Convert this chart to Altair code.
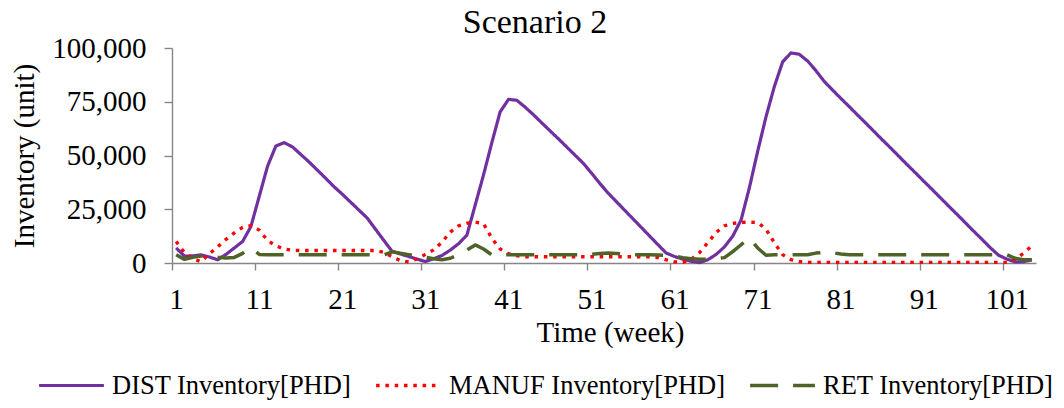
import altair as alt
import pandas as pd

# ---- data (units) ----
weeks = list(range(1, 105))

chart_title = ["Scenario 2"]
series_names = ["DIST Inventory[PHD]", "MANUF Inventory[PHD]", "RET Inventory[PHD]"]
series_colors = ["#7030A0", "#FF0000", "#4F6228"]

x_tick_values = [0.5, 10.5, 20.5, 30.5, 40.5, 50.5, 60.5, 70.5, 80.5, 90.5, 100.5]
y_tick_values = [0, 25000, 50000, 75000, 100000]

dist = [
    7000, 3200, 3300, 3800, 2800, 1500, 4000, 7000, 10000, 17000,
    31000, 45000, 54400, 56000, 54000, 50500, 47000, 43200, 39400, 35500,
    32000, 28300, 24600, 20900, 15700, 10500, 5400, 4200, 3000, 1800,
    700, 2000, 3500, 6000, 9000, 13000, 27000, 41000, 56000, 70300,
    76100, 75700, 72500, 69000, 65200, 61500, 57800, 54000, 50200, 46400,
    41800, 37000, 32500, 28500, 24500, 20500, 16500, 12500, 8500, 4600,
    3000, 1800, 800, 200, 1500, 4000, 7500, 12500, 20000, 35000,
    52000, 68000, 82000, 93500, 97700, 97100, 94000, 89500, 84500, 80500,
    76600, 72800, 68900, 65100, 61200, 57300, 53500, 49600, 45700, 41900,
    38000, 34200, 30300, 26400, 22600, 18700, 14800, 11000, 7100, 3600,
    1800, 500, 600, 1500,
]

manuf = [
    10000, 4800, 2000, 600, 4300, 7500, 11000, 14000, 16600, 17400,
    15300, 10500, 8000, 6500, 5900, 5800, 5800, 5800, 5800, 5800,
    5800, 5800, 5800, 5800, 5800, 5000, 2900, 1100, 500, 1900,
    4000, 6100, 9700, 14400, 17300, 18500, 19000, 18300, 11500, 6500,
    4300, 3400, 2900, 2900, 2900, 2900, 2900, 2900, 2900, 2900,
    2900, 2900, 2900, 2900, 2900, 2900, 2900, 2900, 2500, 1500,
    500, 300, 1800, 4800, 9500, 14200, 17300, 18400, 18900, 19000,
    18800, 15800, 9400, 3900, 1600, 700, 300, 300, 300, 300,
    300, 300, 300, 300, 300, 300, 300, 300, 300, 300,
    300, 300, 300, 300, 300, 300, 300, 300, 300, 300,
    300, 1800, 4500, 8000,
]

ret = [
    3800, 1700, 2700, 3200, 3400, 2700, 2300, 2600, 4500, 7000,
    4000, 3800, 3800, 3800, 3800, 3800, 3800, 3800, 3800, 3800,
    3800, 3800, 3800, 3800, 3800, 3800, 5200, 4500, 3900, 3200,
    2700, 2000, 1500, 2200, 3900, 6000, 8400, 6500, 3800, 3800,
    3800, 3800, 3800, 3800, 3800, 3800, 3800, 3800, 3800, 3800,
    4000, 4400, 4700, 4400, 4100, 3900, 3800, 3800, 3700, 3500,
    3200, 2500, 2000, 1800, 1800, 2000, 2500, 5300, 8500, 11600,
    7000, 3600, 3800, 3800, 3800, 3800, 3800, 4600, 5000, 4800,
    4200, 3800, 3800, 3800, 3800, 3800, 3800, 3800, 3800, 3800,
    3800, 3800, 3800, 3800, 3800, 3800, 3800, 3800, 3800, 3800,
    3800, 2200, 1500, 1500,
]

rows = []
for name, vals in zip(series_names, [dist, manuf, ret]):
    for w, v in zip(weeks, vals):
        rows.append({"week": w, "series": name, "value": v})
df = pd.DataFrame(rows)
title_df = pd.DataFrame({"label": chart_title})

FONT = "Liberation Serif"
AXIS_GRAY = "#868686"

lines = (
    alt.Chart(df)
    .mark_line(strokeJoin="round")
    .encode(
        x=alt.X(
            "week:Q",
            scale=alt.Scale(domain=[0.5, 104.5], nice=False, zero=False),
            axis=alt.Axis(
                values=x_tick_values,
                labelExpr="datum.value + 0.5",
                labelOffset=4,
                labelFlush=False,
                labelOverlap=False,
                grid=False,
                title="Time (week)",
                titleX=438,
                titleY=78,
                titleBaseline="alphabetic",
                titleAlign="center",
                tickSize=7,
                labelPadding=15,
            ),
        ),
        y=alt.Y(
            "value:Q",
            scale=alt.Scale(domain=[0, 100000], nice=False),
            axis=alt.Axis(
                values=y_tick_values,
                format=",d",
                grid=False,
                labelFlush=False,
                labelOverlap=False,
                title="Inventory (unit)",
                titleAngle=270,
                titleX=-148,
                titleY=107.5,
                titleBaseline="middle",
                titleAlign="center",
                tickSize=8,
                labelPadding=18,
            ),
        ),
        color=alt.Color(
            "series:N",
            scale=alt.Scale(domain=series_names, range=series_colors),
            legend=alt.Legend(
                title=None,
                orient="none",
                direction="horizontal",
                legendX=-135,
                legendY=303,
                symbolType="stroke",
                symbolSize=4200,
                labelFont=FONT,
                labelFontSize=26.5,
                labelColor="black",
                labelLimit=500,
                labelOffset=6,
                columnPadding=17,
                padding=0,
            ),
        ),
        strokeDash=alt.StrokeDash(
            "series:N",
            scale=alt.Scale(domain=series_names, range=[[1, 0], [3.5, 5.8], [28, 15]]),
        ),
        strokeWidth=alt.StrokeWidth(
            "series:N",
            scale=alt.Scale(domain=series_names, range=[3.2, 3.5, 4.5]),
        ),
    )
)

title_layer = (
    alt.Chart(title_df)
    .mark_text(font=FONT, fontSize=34, color="black", align="center", baseline="alphabetic")
    .encode(text="label:N", x=alt.value(363), y=alt.value(-15.5))
)

chart = (
    alt.layer(lines, title_layer)
    .properties(
        width=864,
        height=215,
        autosize=alt.AutoSizeParams(type="none"),
        padding={"left": 164, "top": 40, "right": 20, "bottom": 137},
    )
    .configure_view(stroke=None)
    .configure_axis(
        domainColor=AXIS_GRAY,
        domainWidth=1.4,
        tickColor=AXIS_GRAY,
        tickWidth=1.4,
        labelFont=FONT,
        labelFontSize=29,
        labelColor="black",
        titleFont=FONT,
        titleFontSize=29,
        titleFontWeight="normal",
        titleColor="black",
    )
)

chart.save("out.html", embed_options={"renderer": "svg", "actions": False})
